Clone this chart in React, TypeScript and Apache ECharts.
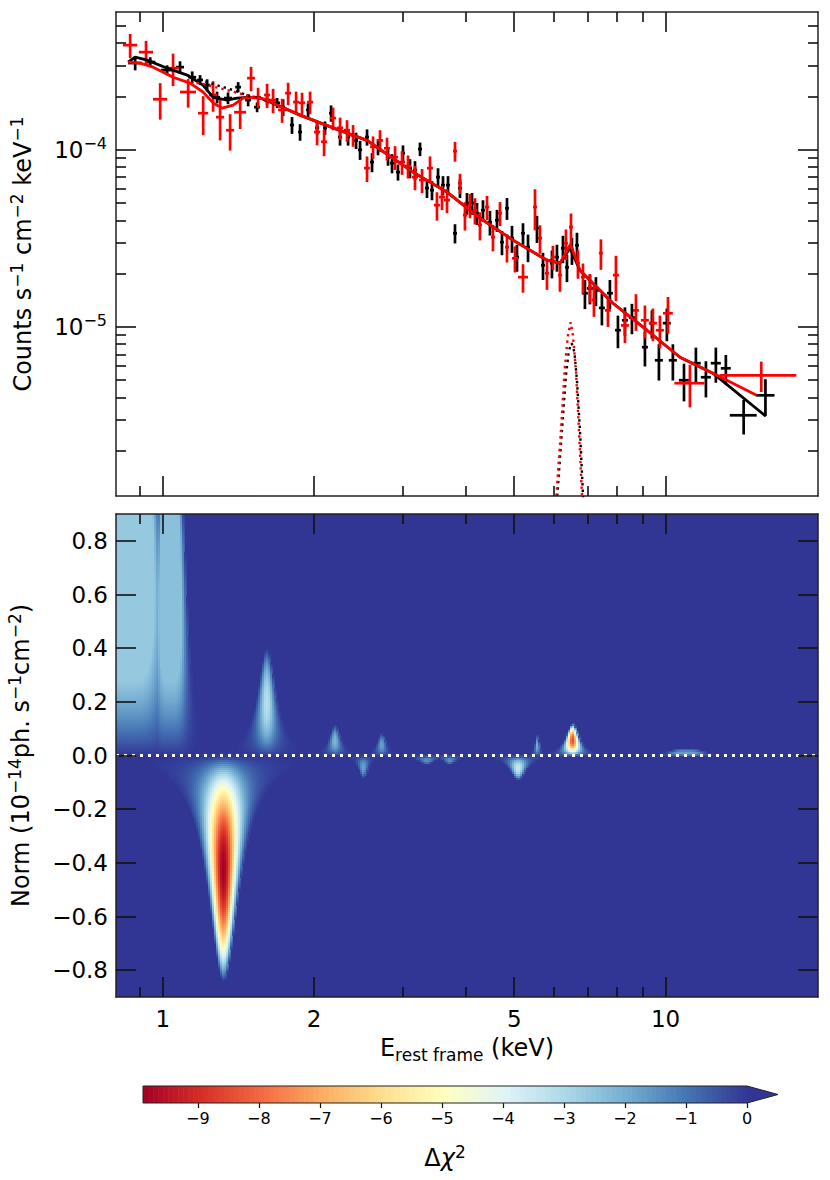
import React, { useEffect, useRef } from "react";
import * as echarts from "echarts";

// ---------------- data ----------------
// fluxes are in units of 1e-5 counts s^-1 cm^-2 keV^-1
const FLUX_SCALE = 1e-5;

// black spectrum
const blackE = [0.881,0.944,1.020,1.082,1.144,1.186,1.225,1.282,1.348,1.412,1.478,1.540,1.612,1.688,1.735,1.807,1.875,1.945,2.027,2.102,2.161,2.252,2.336,2.423,2.468,2.548,2.607,2.679,2.805,2.857,2.936,3.004,3.102,3.174,3.248,3.353,3.431,3.527,3.608,3.692,3.812,3.900,4.027,4.121,4.216,4.333,4.474,4.620,4.727,4.837,4.949,5.064,5.205,5.326,5.549,5.704,5.943,6.081,6.250,6.366,6.513,6.664,6.912,7.072,7.269,7.471,7.750,8.040,8.302,8.572,9.098,9.394,9.700,10.06,10.34,10.88,11.49,12.03,12.59,13.18,14.30,15.80];
const blackEerr = [0.028,0.022,0.028,0.020,0.021,0.016,0.017,0.018,0.025,0.019,0.020,0.021,0.022,0.023,0.016,0.017,0.017,0.018,0.019,0.019,0.020,0.021,0.021,0.022,0.023,0.023,0.024,0.025,0.026,0.026,0.027,0.028,0.028,0.029,0.030,0.031,0.031,0.032,0.033,0.034,0.035,0.036,0.037,0.038,0.039,0.040,0.041,0.042,0.043,0.044,0.045,0.046,0.048,0.049,0.051,0.052,0.054,0.056,0.057,0.058,0.060,0.061,0.095,0.097,0.10,0.103,0.106,0.11,0.114,0.118,0.125,0.129,0.178,0.184,0.19,0.25,0.26,0.275,0.29,0.30,0.88,0.67];
const blackF = [30.9,31.3,28.2,29.3,25.7,24.8,23.2,19.8,19.6,22.6,19.1,17.4,19.1,18.4,17.4,13.8,12.6,16.8,13.3,13.3,16.1,11.8,11.8,11.3,10.0,11.8,8.52,10.4,9.09,8.41,7.48,9.58,7.88,7.68,10.1,6.08,5.92,7.01,6.32,6.32,3.38,6.08,5.00,5.00,4.39,4.56,3.90,4.01,3.01,4.68,3.17,2.48,3.38,2.82,3.61,2.23,2.29,2.48,2.78,2.17,2.71,2.89,1.55,1.65,1.61,1.28,1.55,0.958,1.09,1.13,0.768,1.05,0.648,1.05,0.648,0.500,0.624,0.520,0.624,0.584,0.317,0.411];
const blackFerr = [2.8,2.0,1.8,2.3,2.0,1.6,1.8,1.5,1.5,1.5,1.5,1.1,1.2,1.2,1.9,1.5,1.35,1.5,1.16,1.16,1.7,1.24,1.24,1.19,1.23,1.24,1.05,1.09,0.96,1.04,0.78,1.01,0.97,0.95,0.89,0.74,0.73,0.86,0.78,0.78,0.42,0.74,0.70,0.70,0.62,0.63,0.62,0.57,0.47,0.66,0.55,0.43,0.47,0.50,0.63,0.39,0.41,0.43,0.49,0.38,0.47,0.51,0.29,0.31,0.30,0.26,0.29,0.20,0.20,0.22,0.17,0.19,0.15,0.22,0.15,0.12,0.14,0.12,0.14,0.11,0.07,0.096];

// red spectrum
const redE = [0.861,0.926,0.988,1.048,1.123,1.203,1.259,1.300,1.361,1.425,1.498,1.547,1.612,1.657,1.727,1.775,1.841,1.892,1.963,2.027,2.093,2.181,2.252,2.325,2.390,2.548,2.619,2.704,2.792,2.897,2.991,3.074,3.174,3.278,3.400,3.510,3.592,3.675,3.812,3.900,3.990,4.083,4.177,4.274,4.414,4.536,4.684,4.837,5.017,5.205,5.499,5.626,5.809,5.970,6.164,6.337,6.484,6.695,6.850,7.072,7.203,7.437,7.680,7.966,8.302,8.731,9.098,9.437,9.744,10.11,11.18,15.5];
const redEerr = [0.028,0.030,0.032,0.029,0.041,0.028,0.023,0.024,0.025,0.039,0.027,0.021,0.022,0.023,0.032,0.024,0.025,0.026,0.027,0.028,0.029,0.030,0.031,0.032,0.033,0.035,0.036,0.037,0.038,0.040,0.041,0.042,0.044,0.045,0.047,0.048,0.049,0.050,0.035,0.036,0.037,0.037,0.038,0.039,0.040,0.042,0.043,0.044,0.069,0.12,0.050,0.052,0.053,0.055,0.056,0.058,0.059,0.061,0.063,0.065,0.066,0.068,0.106,0.11,0.152,0.12,0.167,0.173,0.178,0.23,0.77,2.7];
const redF = [39.0,35.6,19.3,28.9,21.2,16.1,20.4,15.3,12.9,16.3,25.4,19.8,20.4,19.1,16.8,20.9,18.6,18.4,18.6,12.6,11.1,15.1,13.3,12.9,12.1,7.88,10.4,11.3,10.2,9.09,8.52,8.09,7.01,6.74,7.88,4.87,5.41,5.20,9.83,6.48,4.28,4.87,4.56,3.76,4.75,3.21,4.39,2.82,2.44,1.91,4.75,3.17,2.01,2.48,1.96,2.97,3.66,2.29,1.91,1.68,1.42,2.61,1.24,1.96,1.02,1.24,1.09,1.05,0.958,1.195,0.481,0.533];
const redFerr = [6.1,5.6,4.5,6.0,3.9,4.0,4.0,4.0,3.0,3.2,4.0,2.6,3.2,3.0,2.6,3.0,2.7,2.6,2.7,2.0,1.9,2.2,1.9,1.8,1.7,1.3,1.5,1.6,1.5,1.4,1.3,1.2,1.1,1.05,1.3,0.89,0.84,0.81,1.26,0.84,0.78,0.76,0.77,0.68,0.74,0.54,0.68,0.51,0.41,0.35,1.24,0.58,0.39,0.39,0.38,0.58,0.71,0.42,0.37,0.31,0.28,0.51,0.24,0.56,0.21,0.29,0.23,0.22,0.20,0.28,0.13,0.104];

// folded models
const blackModelE = [0.853,0.881,0.931,1.020,1.118,1.202,1.259,1.342,1.405,1.471,1.561,1.688,1.875,2.181,2.548,3.145,3.675,4.274,4.971,5.809,6.164,6.454,6.756,7.858,9.181,10.68,12.42,15.83];
const blackModelF = [31.3,33.4,32.1,28.9,26.4,23.2,19.8,19.1,19.6,19.8,19.6,17.9,15.7,13.3,11.3,7.48,5.77,4.11,3.09,2.38,2.29,2.78,2.09,1.36,0.958,0.674,0.548,0.313];
const redModelE = [0.853,0.901,0.957,1.048,1.133,1.202,1.259,1.312,1.380,1.444,1.512,1.597,1.688,1.875,2.181,2.548,3.145,3.675,4.274,4.971,5.809,6.164,6.470,6.756,7.858,9.181,10.68,12.65,15.17];
const redModelF = [31.3,30.9,29.3,25.7,23.8,21.2,18.4,17.2,17.9,19.6,19.8,19.3,17.9,15.7,13.3,11.3,7.48,5.77,4.11,3.09,2.38,2.29,2.93,2.09,1.36,0.958,0.674,0.533,0.411];
// continuum components (dotted) around the 1.3 keV dip
const blackContE = [1.118,1.133,1.242,1.361,1.491,1.561];
const blackContF = [26.4,26.1,23.8,22.0,20.1,19.6];
const redContE = [1.133,1.186,1.271,1.361,1.491,1.544];
const redContF = [23.8,23.8,22.6,21.5,20.1,19.8];
// gaussian line components (dotted)
const blackLineE = [6.053,6.222,6.337,6.424,6.504,6.588,6.664,6.756,6.881];
const blackLineF = [0.0865,0.261,0.533,0.738,0.809,0.720,0.500,0.261,0.0865];
const redLineE = [6.026,6.194,6.308,6.395,6.474,6.543,6.633,6.725,6.850];
const redLineF = [0.0865,0.261,0.607,0.898,1.063,0.898,0.570,0.261,0.0865];

// Δχ² features of the line scan: centre energy (keV), best-fit norm,
// parabola depth, saturation level, width (dex) and profile sharpness
const featE = [1.32, 0.86, 1.035, 1.61, 2.20, 2.505, 2.725, 3.35, 3.72, 5.09, 5.556, 6.53, 11.0];
const featNorm = [-0.42, 0.80, 0.65, 0.20, 0.057, -0.042, 0.042, -0.016, -0.016, -0.045, 0.038, 0.06, 0.012];
const featDepth = [9.9, 4.5, 3.6, 3.2, 2.2, 1.8, 1.8, 1.5, 1.5, 3.5, 2.0, 8.5, 1.8];
const featFloor = [9.9, 2.6, 2.4, 3.2, 2.2, 1.8, 1.8, 1.5, 1.5, 3.5, 2.0, 8.5, 1.8];
const featWidth = [0.038, 0.065, 0.032, 0.022, 0.014, 0.012, 0.011, 0.02, 0.016, 0.02, 0.006, 0.016, 0.04];
const featShape = [2, 4, 4, 2, 2, 2, 2, 2, 2, 2, 2, 2, 4];

const zeroLineE = [0.807, 20.1];

// axes
const E_MIN = 0.807;
const E_MAX = 20.1;
const F_MIN = 1.11e-6;
const F_MAX = 6.0e-4;
const NORM_MIN = -0.9;
const NORM_MAX = 0.9;
const DCHI_MIN = -9.9;
const energyMajor = [1, 2, 5, 10];
const energyMinor = [0.9, 3, 4, 6, 7, 8, 9];
const fluxMajor = [1e-5, 1e-4];
const fluxMinor = [2e-6, 3e-6, 4e-6, 5e-6, 6e-6, 7e-6, 8e-6, 9e-6, 2e-5, 3e-5, 4e-5, 5e-5, 6e-5, 7e-5, 8e-5, 9e-5, 2e-4, 3e-4, 4e-4, 5e-4];
const normTicks = [-0.8, -0.6, -0.4, -0.2, 0, 0.2, 0.4, 0.6, 0.8];
const cbTicks = [-9, -8, -7, -6, -5, -4, -3, -2, -1, 0];
const rdYlBu = ["#a50026", "#d73027", "#f46d43", "#fdae61", "#fee090", "#ffffbf", "#e0f3f8", "#abd9e9", "#74add1", "#4575b4", "#313695"];

// ---------------- derived ----------------
const FONT = "DejaVu Sans";
const TICK = "#111";

function cmap(v: number): string {
  const t = Math.min(1, Math.max(0, (v - DCHI_MIN) / (0 - DCHI_MIN)));
  return echarts.color.lerp(t, rdYlBu) as string;
}

function deltaChi2(u: number, n: number): number {
  let best = Infinity;
  for (let k = 0; k < featE.length; k++) {
    const d = Math.abs((u - Math.log10(featE[k])) / featWidth[k]);
    const n0 = featNorm[k] / (1 + Math.pow(d, featShape[k]));
    const a = featDepth[k] / (featNorm[k] * featNorm[k]);
    const v = Math.max(a * n * (n - 2 * n0), -featFloor[k]);
    if (v < best) best = v;
  }
  return best;
}

const heatCells: number[][] = (() => {
  const out: number[][] = [];
  const NX = 351, NY = 242;
  const u0 = Math.log10(E_MIN), u1 = Math.log10(E_MAX);
  for (let i = 0; i < NX; i++) {
    const ua = u0 + ((u1 - u0) * i) / NX;
    const ub = u0 + ((u1 - u0) * (i + 1)) / NX;
    const uc = (ua + ub) / 2;
    for (let j = 0; j < NY; j++) {
      const na = NORM_MIN + ((NORM_MAX - NORM_MIN) * j) / NY;
      const nb = NORM_MIN + ((NORM_MAX - NORM_MIN) * (j + 1)) / NY;
      const v = deltaChi2(uc, (na + nb) / 2);
      if (v < -0.05) out.push([Math.pow(10, ua), Math.pow(10, ub), na, nb, v]);
    }
  }
  return out;
})();

const cbSlices: number[][] = (() => {
  const out: number[][] = [];
  const n = 120;
  for (let i = 0; i < n; i++) {
    const a = DCHI_MIN + ((0 - DCHI_MIN) * i) / n;
    const b = DCHI_MIN + ((0 - DCHI_MIN) * (i + 1)) / n;
    out.push([a, b]);
  }
  return out;
})();

const frameLine = { show: true, onZero: false, lineStyle: { color: "#222", width: 1.5 } };
const noLine = { show: false, onZero: false };

function xTickAxis(gridIndex: number, position: string, values: number[], length: number, line: boolean, label?: any) {
  return {
    type: "log", logBase: 10, gridIndex, position, min: E_MIN, max: E_MAX, z: 10,
    axisLine: line ? frameLine : noLine,
    axisTick: { show: true, inside: true, length, customValues: values, lineStyle: { color: TICK, width: 1.6 } },
    axisLabel: label || { show: false },
    splitLine: { show: false },
  };
}

function yLogAxis(position: string, values: number[], length: number, line: boolean, label?: any, extra?: any) {
  return {
    type: "log", logBase: 10, gridIndex: 0, position, min: F_MIN, max: F_MAX, z: 10,
    axisLine: line ? frameLine : noLine,
    axisTick: { show: true, inside: true, length, customValues: values, lineStyle: { color: TICK, width: 1.6 } },
    axisLabel: label || { show: false },
    splitLine: { show: false },
    ...(extra || {}),
  };
}

function yNormAxis(position: string, label?: any, extra?: any) {
  return {
    type: "value", gridIndex: 1, position, min: NORM_MIN, max: NORM_MAX, z: 10,
    axisLine: frameLine,
    axisTick: { show: true, inside: true, length: 20, customValues: normTicks, lineStyle: { color: TICK, width: 1.6 } },
    axisLabel: label || { show: false },
    splitLine: { show: false },
    ...(extra || {}),
  };
}

const nameRich = {
  b: { fontSize: 24, fontFamily: FONT, color: "#000", lineHeight: 30 },
  s: { fontSize: 17, fontFamily: FONT, color: "#000", lineHeight: 17, verticalAlign: "top" },
  sub: { fontSize: 17, fontFamily: FONT, color: "#000", lineHeight: 17, verticalAlign: "bottom", padding: [4, 0, 0, 0] },
  i: { fontSize: 24, fontFamily: FONT, color: "#000", lineHeight: 30, fontStyle: "italic" },
};
const labelRich = {
  b: { fontSize: 23, fontFamily: FONT, color: "#000", lineHeight: 28 },
  s: { fontSize: 16, fontFamily: FONT, color: "#000", lineHeight: 16, verticalAlign: "top" },
};

function errorBarSeries(E: number[], dE: number[], F: number[], dF: number[], color: string) {
  return {
    type: "custom", xAxisIndex: 0, yAxisIndex: 0, clip: true, silent: true,
    encode: { x: 0, y: 2 },
    data: E.map((e, i) => [e, dE[i], F[i] * FLUX_SCALE, dF[i] * FLUX_SCALE]),
    renderItem: (_p: any, api: any) => {
      const e = api.value(0), de = api.value(1), f = api.value(2), df = api.value(3);
      const pl = api.coord([e - de, f]);
      const pr = api.coord([e + de, f]);
      const pb = api.coord([e, Math.max(f - df, f * 0.05)]);
      const pt = api.coord([e, f + df]);
      const st = { stroke: color, lineWidth: 2.7, fill: "none" };
      return {
        type: "group",
        children: [
          { type: "line", shape: { x1: pl[0], y1: pl[1], x2: pr[0], y2: pr[1] }, style: st },
          { type: "line", shape: { x1: pb[0], y1: pb[1], x2: pt[0], y2: pt[1] }, style: st },
        ],
      };
    },
  };
}

function lineSeries(E: number[], F: number[], color: string, dotted: boolean) {
  return {
    type: "line", xAxisIndex: 0, yAxisIndex: 0, showSymbol: false, symbol: "none", silent: true, clip: true,
    data: E.map((e, i) => [e, F[i] * FLUX_SCALE]),
    lineStyle: { color, width: dotted ? 2.4 : 2.8, type: dotted ? [2.4, 4] : "solid" },
    z: 3,
  };
}

function buildOption(): any {
  return {
    animation: false,
    backgroundColor: "#fff",
    textStyle: { fontFamily: FONT },
    grid: [
      { left: 116, top: 12, width: 702, height: 484, show: false, containLabel: false, outerBoundsMode: "none" },
      { left: 116, top: 514, width: 702, height: 483, show: true, backgroundColor: "#313695", borderWidth: 0, containLabel: false, outerBoundsMode: "none" },
      { left: 143, top: 1086, width: 604, height: 17, show: false, containLabel: false, outerBoundsMode: "none" },
    ],
    xAxis: [
      xTickAxis(0, "bottom", energyMajor, 20, true),
      xTickAxis(0, "bottom", energyMinor, 10, false),
      xTickAxis(0, "top", energyMajor, 20, true),
      xTickAxis(0, "top", energyMinor, 10, false),
      {
        ...xTickAxis(1, "bottom", energyMajor, 20, true, {
          show: true, customValues: energyMajor, margin: 10, fontSize: 23, color: "#000", fontFamily: FONT,
          formatter: (v: number) => String(Math.round(v)),
        }),
        name: "{b|E}{sub|rest frame}{b| (keV)}",
        nameLocation: "middle", nameGap: 36,
        nameTextStyle: { rich: nameRich, fontSize: 24, fontFamily: FONT, color: "#000" },
      },
      xTickAxis(1, "bottom", energyMinor, 10, false),
      xTickAxis(1, "top", energyMajor, 20, true),
      xTickAxis(1, "top", energyMinor, 10, false),
      {
        type: "value", gridIndex: 2, position: "bottom", min: DCHI_MIN, max: 0,
        axisLine: noLine,
        axisTick: { show: true, inside: false, length: 5, customValues: cbTicks, lineStyle: { color: TICK, width: 1.2 } },
        axisLabel: {
          show: true, customValues: cbTicks, margin: 7, fontSize: 16, color: "#000", fontFamily: FONT,
          formatter: (v: number) => (Math.round(v) === 0 ? "0" : "\u2212" + Math.abs(Math.round(v))),
        },
        splitLine: { show: false },
        name: "{b|\u0394}{i|\u03c7}{s|2}",
        nameLocation: "middle", nameGap: 40,
        nameTextStyle: { rich: nameRich, fontSize: 24, fontFamily: FONT, color: "#000" },
      },
    ],
    yAxis: [
      yLogAxis("left", fluxMajor, 20, true, {
        show: true, customValues: fluxMajor, margin: 9, rich: labelRich,
        formatter: (v: number) => "{b|10}{s|\u2212" + Math.round(-Math.log10(v)) + "}",
      }, {
        name: "{b|Counts s}{s|\u22121}{b| cm}{s|\u22122}{b| keV}{s|\u22121}",
        nameLocation: "middle", nameRotate: 90, nameGap: 78,
        nameTextStyle: { rich: nameRich, fontSize: 24, fontFamily: FONT, color: "#000" },
      }),
      yLogAxis("left", fluxMinor, 10, false),
      yLogAxis("right", fluxMajor, 20, true),
      yLogAxis("right", fluxMinor, 10, false),
      yNormAxis("left", {
        show: true, customValues: normTicks, margin: 8, fontSize: 23, color: "#000", fontFamily: FONT,
        formatter: (v: number) => (v < -1e-9 ? "\u2212" : "") + Math.abs(v).toFixed(1),
      }, {
        name: "{b|Norm (10}{s|\u221214}{b|ph. s}{s|\u22121}{b|cm}{s|\u22122}{b|)}",
        nameLocation: "middle", nameRotate: 90, nameGap: 80,
        nameTextStyle: { rich: nameRich, fontSize: 24, fontFamily: FONT, color: "#000" },
      }),
      yNormAxis("right"),
      { type: "value", gridIndex: 2, min: 0, max: 1, show: false },
    ],
    series: [
      errorBarSeries(blackE, blackEerr, blackF, blackFerr, "#000000"),
      lineSeries(blackModelE, blackModelF, "#000000", false),
      errorBarSeries(redE, redEerr, redF, redFerr, "#ff0000"),
      lineSeries(redModelE, redModelF, "#ff0000", false),
      lineSeries(blackContE, blackContF, "#000000", true),
      lineSeries(redContE, redContF, "#ff0000", true),
      lineSeries(blackLineE, blackLineF, "#000000", true),
      lineSeries(redLineE, redLineF, "#ff0000", true),
      {
        type: "custom", xAxisIndex: 4, yAxisIndex: 4, clip: true, silent: true,
        encode: { x: [0, 1], y: [2, 3] },
        data: heatCells,
        renderItem: (_p: any, api: any) => {
          const p0 = api.coord([api.value(0), api.value(3)]);
          const p1 = api.coord([api.value(1), api.value(2)]);
          return {
            type: "rect",
            shape: { x: p0[0], y: p0[1], width: p1[0] - p0[0] + 0.6, height: p1[1] - p0[1] + 0.6 },
            style: { fill: cmap(api.value(4)) },
          };
        },
      },
      {
        type: "line", xAxisIndex: 4, yAxisIndex: 4, showSymbol: false, symbol: "none", silent: true,
        data: zeroLineE.map((e) => [e, 0]),
        lineStyle: { color: "#ffffff", width: 3, type: [3, 5], cap: "butt" },
        z: 4,
      },
      {
        type: "custom", xAxisIndex: 8, yAxisIndex: 6, silent: true,
        encode: { x: [0, 1] },
        data: cbSlices,
        renderItem: (_p: any, api: any) => {
          const a = api.value(0), b = api.value(1);
          const p0 = api.coord([a, 1]);
          const p1 = api.coord([b, 0]);
          return {
            type: "rect",
            shape: { x: p0[0], y: p0[1], width: p1[0] - p0[0] + 0.6, height: p1[1] - p0[1] },
            style: { fill: cmap((a + b) / 2) },
          };
        },
      },
      {
        type: "custom", xAxisIndex: 8, yAxisIndex: 6, silent: true, clip: false,
        data: [[DCHI_MIN, 0]],
        renderItem: (_p: any, api: any) => {
          const l = api.value(0), r = api.value(1);
          const tl = api.coord([l, 1]), bl = api.coord([l, 0]);
          const tr = api.coord([r, 1]), br = api.coord([r, 0]);
          const tip = [tr[0] + 31, (tr[1] + br[1]) / 2];
          return {
            type: "group",
            children: [
              { type: "polygon", shape: { points: [tr, tip, br] }, style: { fill: "#313695" } },
              {
                type: "polygon", shape: { points: [tl, tr, tip, br, bl] },
                style: { fill: "none", stroke: "#222", lineWidth: 1 },
              },
            ],
          };
        },
        z: 5,
      },
    ],
  };
}

export default function App() {
  const ref = useRef<HTMLDivElement>(null);
  useEffect(() => {
    document.body.style.margin = "0";
    if (!ref.current) return;
    const chart = echarts.init(ref.current, null, { renderer: "svg" });
    chart.setOption(buildOption());
    return () => chart.dispose();
  }, []);
  return <div ref={ref} style={{ position: "absolute", left: 0, top: 0, width: 830, height: 1180 }} />;
}
